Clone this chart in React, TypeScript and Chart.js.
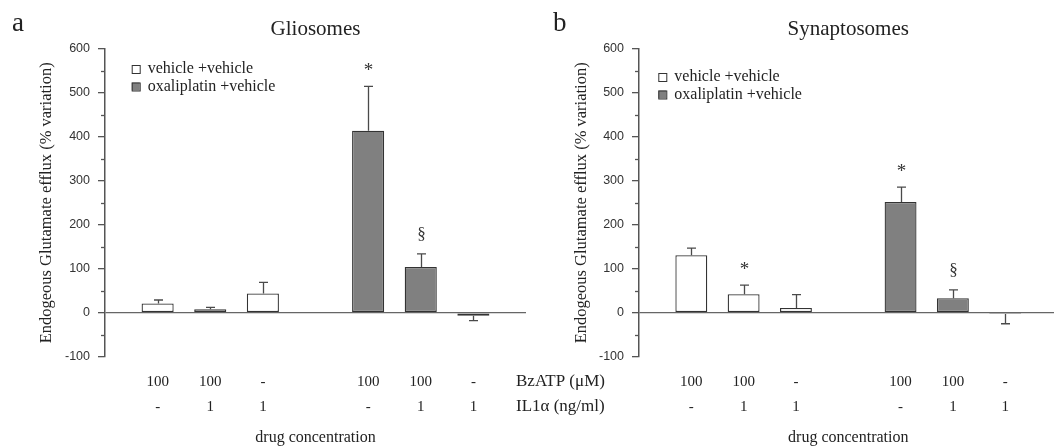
import React, { useEffect, useRef } from 'react';
import { Chart, registerables } from 'chart.js';

Chart.register(...registerables);

// ---------- data ----------
const bzatpRow = ['100', '100', '-', '100', '100', '-'];
const il1Row = ['-', '1', '1', '-', '1', '1'];
const rowTitles = ['BzATP (\u03bcM)', 'IL1\u03b1 (ng/ml)'];
const slotIndex = [1, 2, 3, 5, 6, 7];
const slotCount = 9;

const seriesNames = ['vehicle +vehicle', 'oxaliplatin +vehicle'];

const glioVehicle = [21, 8, 44];
const glioVehicleErr = [8, 4, 25];
const glioOxali = [414, 104, -7];
const glioOxaliErr = [101, 30, 11];
const glioMarks = ['', '', '', '*', '\u00a7', ''];

const synVehicle = [131, 42, 11];
const synVehicleErr = [16, 21, 30];
const synOxali = [252, 33, -3];
const synOxaliErr = [34, 19, 22];
const synMarks = ['', '*', '', '*', '\u00a7', ''];

const yMin = -100;
const yMax = 600;
const yMinorStep = 50;
const yMajorStep = 100;

const panelTitles = ['Gliosomes', 'Synaptosomes'];
const panelLetters = ['a', 'b'];
const yTitle = 'Endogeous Glutamate efflux (% variation)';
const xTitle = 'drug concentration';

// ---------- styling ----------
const SERIF = "'Liberation Serif', 'Times New Roman', serif";
const SANS = "'Liberation Sans', Arial, sans-serif";
const TEXT = '#222';
const AXIS = '#555';
const GRAY = '#808080';

function slotted(values: number[], start: number): (number | null)[] {
  const out: (number | null)[] = new Array(slotCount).fill(null);
  values.forEach((v, i) => { out[slotIndex[start + i]] = v; });
  return out;
}

function buildLabels(): (string | string[])[] {
  const out: (string | string[])[] = new Array(slotCount).fill('');
  slotIndex.forEach((s, i) => { out[s] = [bzatpRow[i], il1Row[i]]; });
  return out;
}

function slottedMarks(marks: string[]): string[] {
  const out: string[] = new Array(slotCount).fill('');
  slotIndex.forEach((s, i) => { out[s] = marks[i]; });
  return out;
}

interface PanelCfg {
  title: string;
  letter: string;
  letterX: number;
  vehicle: number[];
  vehicleErr: number[];
  oxali: number[];
  oxaliErr: number[];
  marks: string[];
  yAxisWidth: number;
  padRight: number;
  yTitlePad: number;
  legendX: number;
  legendY: number;
  rowLabels: boolean;
}

function decorPlugin(p: PanelCfg) {
  const marks = slottedMarks(p.marks);
  return {
    id: 'decor',
    afterDraw(chart: any) {
      const ctx = chart.ctx as CanvasRenderingContext2D;
      const ca = chart.chartArea;
      const y = chart.scales.y;
      ctx.save();

      // minor ticks
      ctx.strokeStyle = AXIS;
      ctx.lineWidth = 1.3;
      y.ticks.forEach((t: any) => {
        if (t.value % yMajorStep !== 0) {
          const py = Math.round(y.getPixelForValue(t.value)) + 0.5;
          ctx.beginPath();
          ctx.moveTo(ca.left - 4, py);
          ctx.lineTo(ca.left, py);
          ctx.stroke();
        }
      });

      // error bars + significance marks
      chart.data.datasets.forEach((ds: any, di: number) => {
        const meta = chart.getDatasetMeta(di);
        ds.data.forEach((v: number | null, i: number) => {
          if (v == null) return;
          const e = ds.errors[i] as number;
          const bx = Math.round(meta.data[i].x) + 0.5;
          const y0 = y.getPixelForValue(v);
          const end = v >= 0 ? v + e : v - e;
          const y1 = y.getPixelForValue(end);
          ctx.strokeStyle = '#4a4a4a';
          ctx.lineWidth = 1.3;
          ctx.beginPath();
          ctx.moveTo(bx, y0);
          ctx.lineTo(bx, y1);
          ctx.moveTo(bx - 4.5, y1);
          ctx.lineTo(bx + 4.5, y1);
          ctx.stroke();
          const m = marks[i];
          if (m) {
            ctx.fillStyle = '#333';
            ctx.textAlign = 'center';
            ctx.textBaseline = 'alphabetic';
            const cy = y1 - 19;
            if (m === '*') {
              ctx.font = `19px ${SERIF}`;
              ctx.fillText(m, bx, cy + 9);
            } else {
              ctx.font = `17px ${SERIF}`;
              ctx.fillText(m, bx, cy + 4);
            }
          }
        });
      });

      // title
      ctx.fillStyle = TEXT;
      ctx.textAlign = 'center';
      ctx.textBaseline = 'alphabetic';
      ctx.font = `21px ${SERIF}`;
      ctx.fillText(p.title, (ca.left + ca.right) / 2, 35);

      // panel letter
      ctx.textAlign = 'left';
      ctx.font = `27px ${SERIF}`;
      ctx.fillText(p.letter, p.letterX, 31);

      // legend
      ctx.font = `16px ${SERIF}`;
      ctx.textBaseline = 'middle';
      chart.data.datasets.forEach((ds: any, di: number) => {
        const cy = p.legendY + di * 17.5;
        const bx = ca.left + p.legendX;
        ctx.fillStyle = ds.backgroundColor;
        ctx.fillRect(bx, cy - 4, 8, 8);
        ctx.strokeStyle = '#333';
        ctx.lineWidth = 1;
        ctx.strokeRect(bx + 0.5, cy - 3.5, 8, 8);
        ctx.fillStyle = TEXT;
        ctx.fillText(ds.label, bx + 16, cy);
      });

      // row labels of the x table
      if (p.rowLabels) {
        ctx.font = `17px ${SERIF}`;
        ctx.textAlign = 'left';
        ctx.textBaseline = 'middle';
        rowTitles.forEach((t, i) => {
          ctx.fillText(t, 516, ca.bottom + 25 + i * 25);
        });
      }
      ctx.restore();
    },
  };
}

function buildConfig(p: PanelCfg): any {
  return {
    type: 'bar',
    data: {
      labels: buildLabels(),
      datasets: [
        {
          label: seriesNames[0],
          data: slotted(p.vehicle, 0),
          errors: slotted(p.vehicleErr, 0),
          backgroundColor: '#ffffff',
          borderColor: '#333',
          borderWidth: 1.3,
          borderSkipped: false,
          grouped: false,
          barPercentage: 0.61,
          categoryPercentage: 1,
        },
        {
          label: seriesNames[1],
          data: slotted(p.oxali, 3),
          errors: slotted(p.oxaliErr, 3),
          backgroundColor: GRAY,
          borderColor: '#333',
          borderWidth: 1.3,
          borderSkipped: false,
          grouped: false,
          barPercentage: 0.61,
          categoryPercentage: 1,
        },
      ],
    },
    options: {
      responsive: false,
      animation: false,
      layout: { padding: { top: 49, right: p.padRight, bottom: 0, left: 0 } },
      plugins: {
        legend: { display: false },
        tooltip: { enabled: false },
        title: { display: false },
      },
      scales: {
        x: {
          offset: false,
          grid: { display: false, drawTicks: false },
          border: { display: false },
          ticks: {
            autoSkip: false,
            maxRotation: 0,
            padding: 12.5,
            color: TEXT,
            font: { family: SERIF, size: 15, lineHeight: 25 / 15 },
          },
          title: {
            display: true,
            text: xTitle,
            color: TEXT,
            font: { family: SERIF, size: 16, lineHeight: 1 },
            padding: { top: 0, bottom: 0 },
          },
          afterFit: (s: any) => { s.height = 89.3; },
        },
        y: {
          min: yMin,
          max: yMax,
          ticks: {
            stepSize: yMinorStep,
            padding: 8,
            color: '#333',
            font: { family: SANS, size: 12.5 },
            callback: (v: number) => (v % yMajorStep === 0 ? String(v) : ''),
          },
          grid: {
            color: (c: any) => (c.tick && c.tick.value === 0 ? '#666' : 'rgba(0,0,0,0)'),
            lineWidth: 1.3,
            tickLength: 7,
            tickWidth: 1.3,
            tickColor: (c: any) => (c.tick && c.tick.value % yMajorStep === 0 ? AXIS : 'rgba(0,0,0,0)'),
          },
          border: { display: true, color: AXIS, width: 1.5 },
          title: {
            display: true,
            text: yTitle,
            color: TEXT,
            font: { family: SERIF, size: 16.5 },
            padding: { top: p.yTitlePad, bottom: 0 },
          },
          afterFit: (s: any) => { s.width = p.yAxisWidth; },
        },
      },
    },
    plugins: [decorPlugin(p)],
  };
}

const leftPanel: PanelCfg = {
  title: panelTitles[0],
  letter: panelLetters[0],
  letterX: 12,
  vehicle: glioVehicle,
  vehicleErr: glioVehicleErr,
  oxali: glioOxali,
  oxaliErr: glioOxaliErr,
  marks: glioMarks,
  yAxisWidth: 105,
  padRight: 94,
  yTitlePad: 37,
  legendX: 26.7,
  legendY: 69,
  rowLabels: true,
};

const rightPanel: PanelCfg = {
  title: panelTitles[1],
  letter: panelLetters[1],
  letterX: 23,
  vehicle: synVehicle,
  vehicleErr: synVehicleErr,
  oxali: synOxali,
  oxaliErr: synOxaliErr,
  marks: synMarks,
  yAxisWidth: 109,
  padRight: 5,
  yTitlePad: 42,
  legendX: 19.3,
  legendY: 77,
  rowLabels: false,
};

export default function App() {
  const leftRef = useRef<HTMLCanvasElement>(null);
  const rightRef = useRef<HTMLCanvasElement>(null);

  useEffect(() => {
    const c1 = new Chart(leftRef.current as HTMLCanvasElement, buildConfig(leftPanel));
    const c2 = new Chart(rightRef.current as HTMLCanvasElement, buildConfig(rightPanel));
    return () => {
      c1.destroy();
      c2.destroy();
    };
  }, []);

  return (
    <div
      style={{
        position: 'fixed',
        left: 0,
        top: 0,
        width: 1054,
        height: 446,
        overflow: 'hidden',
        background: '#ffffff',
      }}
    >
      <canvas ref={leftRef} width={620} height={446} style={{ position: 'absolute', left: 0, top: 0 }} />
      <canvas ref={rightRef} width={540} height={446} style={{ position: 'absolute', left: 530, top: 0 }} />
    </div>
  );
}
